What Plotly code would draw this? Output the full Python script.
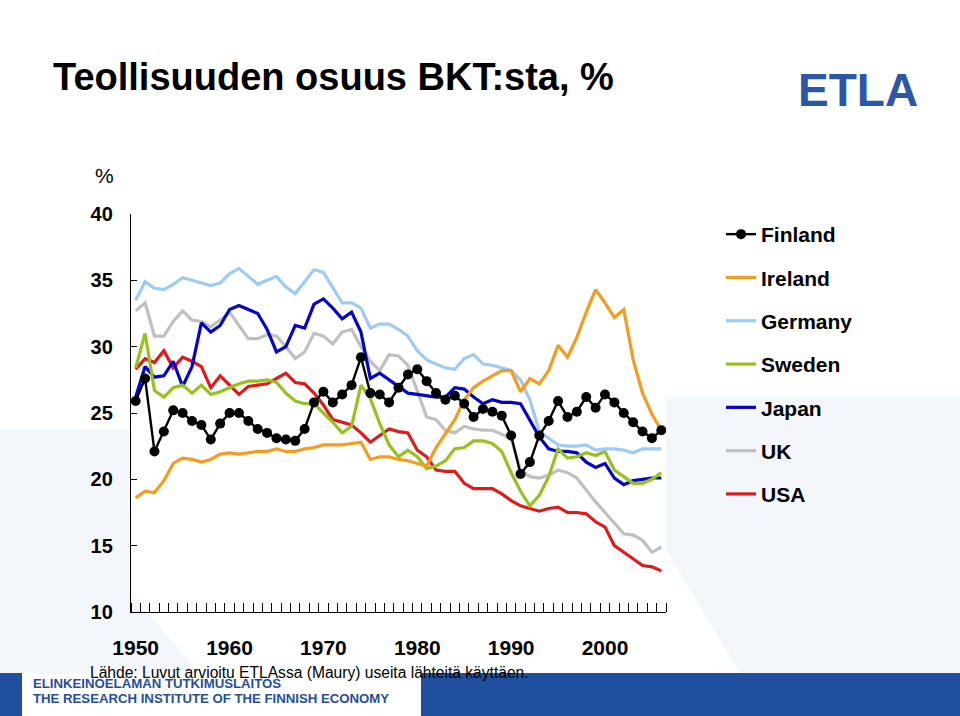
import plotly.graph_objects as go

# ---------------- data ----------------
years = list(range(1950, 2007))
x_tick_years = [1950, 1960, 1970, 1980, 1990, 2000]
y_ticks = [10, 15, 20, 25, 30, 35, 40]

finland = [25.9, 27.6, 22.1, 23.6, 25.2, 25.0, 24.4, 24.1, 23.0, 24.2,
           25.0, 25.0, 24.4, 23.8, 23.5, 23.1, 23.0, 22.9, 23.8, 25.8,
           26.6, 25.8, 26.4, 27.1, 29.2, 26.5, 26.4, 25.8, 26.9, 27.9,
           28.3, 27.4, 26.5, 26.0, 26.3, 25.7, 24.7, 25.3, 25.1, 24.8,
           23.3, 20.4, 21.3, 23.3, 24.4, 25.9, 24.7, 25.1, 26.2, 25.4,
           26.4, 25.8, 25.0, 24.3, 23.6, 23.1, 23.7]
ireland = [18.6, 19.1, 19.0, 19.9, 21.2, 21.6, 21.5, 21.3, 21.5, 21.9,
           22.0, 21.9, 22.0, 22.1, 22.1, 22.3, 22.1, 22.1, 22.3, 22.4,
           22.6, 22.6, 22.6, 22.7, 22.8, 21.5, 21.7, 21.7, 21.5, 21.4,
           21.2, 21.0, 22.4, 23.4, 24.5, 26.0, 26.9, 27.4, 27.8, 28.2,
           28.2, 26.6, 27.6, 27.2, 28.2, 30.1, 29.2, 30.7, 32.6, 34.3,
           33.3, 32.2, 32.8, 29.0, 26.5, 24.9, 23.7]
germany = [33.5, 34.9, 34.4, 34.3, 34.7, 35.2, 35.0, 34.8, 34.6, 34.8,
           35.5, 35.9, 35.3, 34.7, 35.0, 35.3, 34.5, 34.0, 34.9, 35.8,
           35.6, 34.5, 33.3, 33.3, 32.9, 31.4, 31.7, 31.7, 31.3, 30.8,
           29.7, 29.0, 28.7, 28.4, 28.3, 29.1, 29.4, 28.7, 28.6, 28.4,
           28.2, 27.5, 26.0, 23.6, 23.1, 22.6, 22.5, 22.5, 22.6, 22.2,
           22.3, 22.3, 22.2, 22.0, 22.3, 22.3, 22.3]
sweden = [28.4, 31.0, 26.7, 26.2, 26.9, 27.1, 26.5, 27.1, 26.4, 26.6,
          26.9, 27.2, 27.4, 27.4, 27.5, 27.3, 26.5, 25.9, 25.7, 25.7,
          25.0, 24.3, 23.5, 24.0, 27.1, 26.1, 24.2, 22.6, 21.7, 22.2,
          21.7, 20.8, 21.0, 21.4, 22.3, 22.4, 22.9, 22.9, 22.7, 22.1,
          20.5, 19.1, 18.0, 18.8, 20.2, 22.3, 21.6, 21.7, 22.0, 21.8,
          22.1, 20.7, 20.2, 19.7, 19.7, 20.0, 20.5]
japan = [26.2, 28.5, 27.7, 27.8, 28.9, 27.0, 28.5, 31.8, 31.1, 31.6,
         32.8, 33.1, 32.8, 32.5, 31.3, 29.6, 30.0, 31.6, 31.4, 33.2,
         33.6, 32.9, 32.1, 32.6, 31.1, 27.6, 28.0, 27.5, 27.0, 26.5,
         26.4, 26.3, 26.2, 26.2, 26.9, 26.8, 26.2, 25.7, 26.0, 25.8,
         25.8, 25.7, 24.5, 23.2, 22.3, 22.1, 22.1, 22.0, 21.3, 20.9,
         21.2, 20.1, 19.6, 19.9, 20.0, 20.1, 20.1]
uk = [32.7, 33.3, 30.8, 30.8, 31.9, 32.7, 32.0, 31.9, 31.5, 32.0,
      32.6, 31.6, 30.6, 30.6, 30.9, 30.8, 30.0, 29.1, 29.6, 31.0,
      30.8, 30.2, 31.1, 31.3, 30.0, 28.9, 28.2, 29.4, 29.3, 28.6,
      26.7, 24.7, 24.5, 23.7, 23.5, 24.0, 23.8, 23.7, 23.7, 23.4,
      23.1, 20.7, 20.2, 20.1, 20.3, 20.7, 20.5, 20.1, 19.2, 18.3,
      17.5, 16.7, 15.9, 15.8, 15.4, 14.5, 14.9]
usa = [28.3, 29.1, 28.8, 29.7, 28.4, 29.2, 28.9, 28.5, 26.9, 27.8,
       27.1, 26.4, 27.0, 27.1, 27.2, 27.6, 28.0, 27.3, 27.2, 26.5,
       25.6, 24.5, 24.3, 24.1, 23.5, 22.8, 23.3, 23.8, 23.6, 23.5,
       22.2, 21.7, 20.7, 20.6, 20.6, 19.7, 19.3, 19.3, 19.3, 18.9,
       18.4, 18.0, 17.8, 17.6, 17.8, 17.9, 17.5, 17.5, 17.4, 16.8,
       16.4, 15.0, 14.5, 14.0, 13.5, 13.4, 13.1]

series_names = ["Finland", "Ireland", "Germany", "Sweden", "Japan", "UK", "USA"]
series_values = [finland, ireland, germany, sweden, japan, uk, usa]
series_colors = ["#000000", "#f39c1f", "#9ecbf2", "#96c11f", "#0505c8", "#c0c0c0", "#e01a1a"]

title_text = "Teollisuuden osuus BKT:sta, %"
source_text = "Lähde: Luvut arvioitu ETLAssa (Maury) useita lähteitä käyttäen."
org_line1 = "ELINKEINOELÄMÄN TUTKIMUSLAITOS"
org_line2 = "THE RESEARCH INSTITUTE OF THE FINNISH ECONOMY"

# ---------------- layout geometry (pixels) ----------------
W, H = 960, 716
L, R, T, B = 131, 666, 214, 612
FONT = "Liberation Sans, Arial, Helvetica, sans-serif"
ETLA_BLUE = "#1f4f9e"


def px(xp):
    return (xp - L) / (R - L)


def py(yp):
    return (B - yp) / (B - T)


fig = go.Figure()

# draw in reverse so Finland ends on top; legend order fixed by legendrank
n = len(series_names)
for i in reversed(range(n)):
    name, vals, col = series_names[i], series_values[i], series_colors[i]
    if name == "Finland":
        fig.add_trace(go.Scatter(
            x=years, y=vals, name=name, mode="lines+markers",
            line=dict(color=col, width=2.4),
            marker=dict(color=col, size=10),
            legendgroup=name, legendrank=i + 1,
        ))
    else:
        fig.add_trace(go.Scatter(
            x=years, y=vals, name=name, mode="lines",
            line=dict(color=col, width=3.2),
            legendgroup=name, legendrank=i + 1,
        ))

shapes = []
light = "#f3f6fa"
# faint background decorations of the slide
shapes.append(dict(type="path", xref="paper", yref="paper", layer="below",
                   path=f"M {px(666)} {py(397)} L {px(960)} {py(397)} L {px(960)} {py(673)} "
                        f"L {px(740)} {py(673)} L {px(666)} {py(550)} Z",
                   fillcolor=light, line=dict(width=0)))
shapes.append(dict(type="path", xref="paper", yref="paper", layer="below",
                   path=f"M {px(0)} {py(430)} L {px(131)} {py(430)} L {px(131)} {py(595)} "
                        f"L {px(200)} {py(673)} L {px(0)} {py(673)} Z",
                   fillcolor=light, line=dict(width=0)))
# footer bars
shapes.append(dict(type="rect", xref="paper", yref="paper", layer="below",
                   x0=px(0), x1=px(22), y0=py(716), y1=py(673),
                   fillcolor=ETLA_BLUE, line=dict(width=0)))
shapes.append(dict(type="rect", xref="paper", yref="paper", layer="below",
                   x0=px(421), x1=px(960), y0=py(716), y1=py(673),
                   fillcolor=ETLA_BLUE, line=dict(width=0)))

annotations = [
    dict(text=f"<b>{title_text}</b>", x=px(51), y=py(77), xref="paper", yref="paper",
         xanchor="left", yanchor="middle", showarrow=False,
         font=dict(family=FONT, size=38, color="black")),
    dict(text="<b>ETLA</b>", x=px(858), y=py(90), xref="paper", yref="paper",
         xanchor="center", yanchor="middle", showarrow=False,
         font=dict(family=FONT, size=46, color="#2b57a7")),
    dict(text="%", x=px(116), y=py(175), xref="paper", yref="paper",
         xanchor="right", yanchor="middle", showarrow=False,
         font=dict(family=FONT, size=21, color="black")),
    dict(text=source_text, x=px(88), y=py(672), xref="paper", yref="paper",
         xanchor="left", yanchor="middle", showarrow=False,
         font=dict(family=FONT, size=15.6, color="black")),
    dict(text=f"<b>{org_line1}</b>", x=px(31), y=py(683), xref="paper", yref="paper",
         xanchor="left", yanchor="middle", showarrow=False,
         font=dict(family=FONT, size=13.2, color=ETLA_BLUE)),
    dict(text=f"<b>{org_line2}</b>", x=px(31), y=py(698), xref="paper", yref="paper",
         xanchor="left", yanchor="middle", showarrow=False,
         font=dict(family=FONT, size=13.2, color=ETLA_BLUE)),
]

fig.update_layout(
    width=W, height=H,
    margin=dict(l=L, r=W - R, t=T, b=H - B, pad=0, autoexpand=False),
    paper_bgcolor="white", plot_bgcolor="white",
    showlegend=True,
    legend=dict(
        x=721 / W, y=1 - 214 / H, xref="container", yref="container",
        xanchor="left", yanchor="top",
        traceorder="grouped", tracegroupgap=13,
        bgcolor="rgba(0,0,0,0)",
        font=dict(family=FONT, size=21, color="black", weight="bold"),
    ),
    xaxis=dict(
        range=[1949.5, 2006.5], tickvals=x_tick_years,
        ticktext=[str(v) for v in x_tick_years],
        ticks="", showgrid=False, zeroline=False, automargin=False,
        showline=True, linecolor="black", linewidth=1.3,
        tickfont=dict(family=FONT, size=21, color="black", weight="bold"),
        ticklabelstandoff=17,
        minor=dict(ticks="inside", ticklen=9, tickwidth=1, tickcolor="black",
                   tick0=1949.5, dtick=1, showgrid=False),
    ),
    yaxis=dict(
        range=[10, 40], tickvals=y_ticks, ticktext=[str(v) for v in y_ticks],
        ticks="inside", ticklen=6, tickwidth=1, tickcolor="black",
        showgrid=False, zeroline=False, automargin=False,
        showline=True, linecolor="black", linewidth=1.3,
        tickfont=dict(family=FONT, size=20, color="black", weight="bold"),
        ticklabelstandoff=13,
    ),
    shapes=shapes,
    annotations=annotations,
)

fig.write_html("out.html",
               config={"displayModeBar": False},
               post_script="document.body.style.margin='0px';document.body.style.overflow='hidden';")
